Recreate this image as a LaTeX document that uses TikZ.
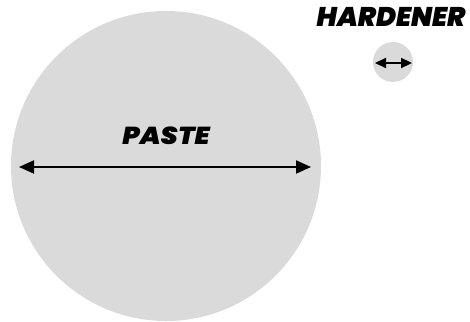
\documentclass[tikz,border=0pt]{standalone}
\usepackage{fontspec}
\newfontfamily\heavy{Poppins Black Italic}
\usetikzlibrary{arrows.meta}
\definecolor{disc}{HTML}{DADADA}
\begin{document}
\begin{tikzpicture}[x=1pt,y=-1pt,
  disc/.style={circle,fill=disc,inner sep=0pt,minimum size=#1},
  lbl/.style={font=\heavy\fontsize{#1}{#1}\selectfont,inner sep=0pt,anchor=center},
  dim/.style={line width=2pt,{Triangle[length=15pt,width=13pt]}-{Triangle[length=15pt,width=13pt]}},
  smalldim/.style={line width=2.2pt,{Triangle[length=11pt,width=10pt]}-{Triangle[length=11pt,width=10pt]}}]
\useasboundingbox (0,0) rectangle (470,321);
\node[disc=310pt] (paste) at (166,166) {};
\node[disc=40pt] (hard) at (393,62) {};
\coordinate (pl) at (19,167);
\coordinate (pr) at (311,167);
\draw[dim] (pl) -- (pr);
\coordinate (hl) at (375,63);
\coordinate (hr) at (412,63);
\draw[smalldim] (hl) -- (hr);
\node[lbl=24.5,xscale=1.1] (pastelbl) at (166,136) {PASTE};
\node[lbl=27] (hardlbl) at (391,16.5) {HARDENER};
\end{tikzpicture}
\end{document}
